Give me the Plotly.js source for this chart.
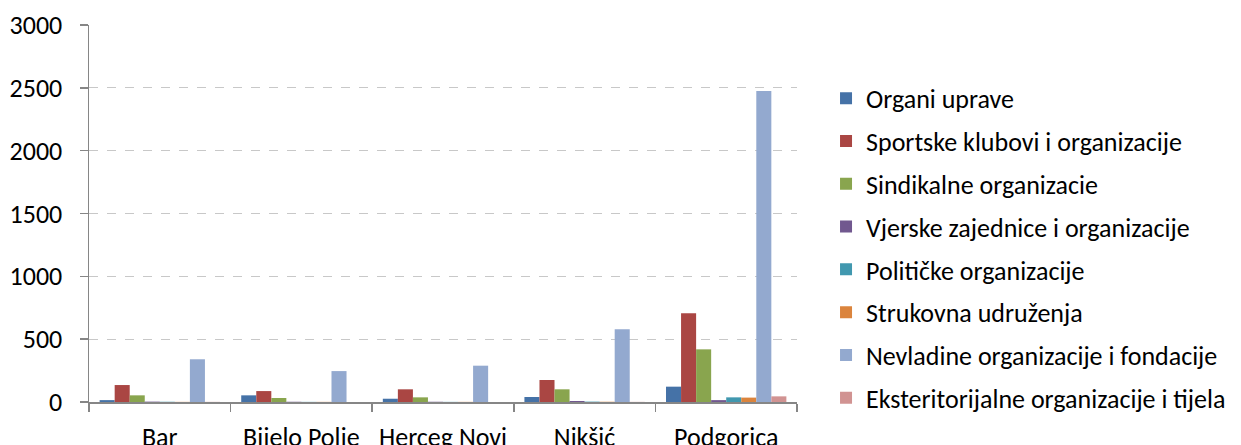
<!DOCTYPE html>
<html>
<head>
<meta charset="utf-8">
<script src="https://cdn.plot.ly/plotly-3.0.1.min.js"></script>
<style>html,body{margin:0;padding:0;background:#fff;}#chart{width:1241px;height:445px;}</style>
</head>
<body>
<div id="chart"></div>
<script>
const categories = ["Bar", "Bijelo Polje", "Herceg Novi", "Nikšić", "Podgorica"];
const seriesNames = [
  "Organi uprave",
  "Sportske klubovi i organizacije",
  "Sindikalne organizacie",
  "Vjerske zajednice i organizacije",
  "Političke organizacije",
  "Strukovna udruženja",
  "Nevladine organizacije i fondacije",
  "Eksteritorijalne organizacije i tijela"
];
const organiUprave      = [15, 53, 26, 40, 122];
const sportskeKlubovi   = [135, 87, 101, 175, 706];
const sindikalne        = [53, 32, 37, 101, 419];
const vjerske           = [3, 2, 2, 8, 15];
const politicke         = [2, 1, 1, 3, 37];
const strukovna         = [1, 1, 1, 2, 35];
const nevladine         = [340, 246, 289, 578, 2475];
const eksteritorijalne  = [1, 0, 0, 1, 45];
const yTicks = [0, 500, 1000, 1500, 2000, 2500, 3000];

const seriesValues = [organiUprave, sportskeKlubovi, sindikalne, vjerske, politicke, strukovna, nevladine, eksteritorijalne];
const colors = ["#4572A7", "#AA4643", "#89A54E", "#71588F", "#4198AF", "#DB843D", "#93A9CF", "#D19392"];
const fontFam = "Carlito, Calibri, 'Open Sans', sans-serif";
const fs = 26;

const traces = seriesNames.map((name, i) => ({
  type: "bar",
  name: name,
  x: categories,
  y: seriesValues[i],
  legendgroup: "g" + i,
  marker: {color: colors[i], line: {width: 0}}
}));

const layout = {
  width: 1241, height: 445,
  margin: {l: 89, r: 444, t: 25, b: 43, autoexpand: false},
  paper_bgcolor: "#fff", plot_bgcolor: "#fff",
  font: {family: fontFam, size: fs, color: "#000"},
  barmode: "group",
  bargap: 0.15,
  bargroupgap: 0,
  showlegend: true,
  legend: {
    x: 1.041, xanchor: "left", y: 0.868, yanchor: "top",
    font: {family: fontFam, size: fs, color: "#000"},
    tracegroupgap: 6,
    itemwidth: 30
  },
  xaxis: {
    type: "category",
    showline: true, linecolor: "#868686", linewidth: 1.5,
    ticks: "outside", tickson: "boundaries", ticklen: 8, tickcolor: "#868686", tickwidth: 1.5,
    ticklabelstandoff: 11,
    showgrid: false,
    tickfont: {family: fontFam, size: fs, color: "#000"}
  },
  yaxis: {
    range: [0, 3000],
    tickvals: yTicks,
    ticktext: yTicks.map(String),
    showline: true, linecolor: "#868686", linewidth: 1.5,
    ticks: "outside", ticklen: 8, tickcolor: "#868686", tickwidth: 1.5,
    showgrid: true, gridcolor: "#C8C8C8", griddash: "dash", gridwidth: 1,
    zeroline: false,
    ticklabelstandoff: 12,
    tickfont: {family: fontFam, size: fs, color: "#000"}
  }
};

Plotly.newPlot("chart", traces, layout, {displayModeBar: false, staticPlot: true});
</script>
</body>
</html>
